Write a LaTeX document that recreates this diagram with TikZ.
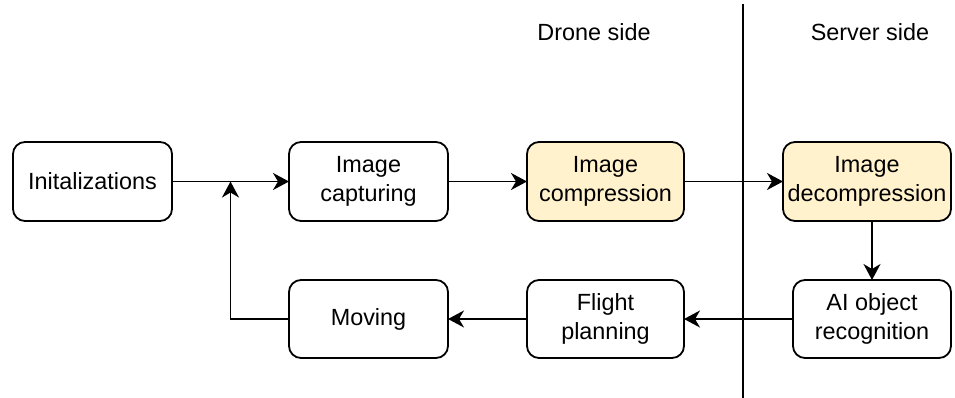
\documentclass[tikz,border=0pt]{standalone}
\usepackage{fontspec}
\setmainfont{Liberation Sans}
\usetikzlibrary{arrows.meta}
\definecolor{stepfill}{HTML}{FFF2CC}
\tikzset{
  proc/.style={draw=black, line width=1.8pt, rounded corners=12pt, fill=white,
    align=center, inner sep=0pt, outer sep=0pt, minimum height=79pt,
    font=\fontsize{23.4}{29.5}\selectfont},
  hl/.style={fill=stepfill},
  flow/.style={line width=1.8pt, -{Stealth[length=16pt,width=17pt,inset=5pt]}},
  lbl/.style={font=\fontsize{23.4}{29.5}\selectfont, inner sep=0pt},
}
\begin{document}
\begin{tikzpicture}[x=1pt,y=-1pt]
\useasboundingbox (0,0) rectangle (955,398);

% divider between drone and server
\coordinate (dtop) at (743,4);
\coordinate (dbot) at (743,398);
\draw[line width=1.8pt] (dtop) -- (dbot);

\node[lbl] (drone) at (594,32) {Drone side};
\node[lbl] (server) at (870,32) {Server side};

% top row
\node[proc, minimum width=159pt] (init) at (92.5,181.5) {Initalizations};
\node[proc, minimum width=159pt] (cap) at (368.5,181.5) {Image\\capturing};
\node[proc, hl, minimum width=157pt] (comp) at (605.5,181.5) {Image\\compression};
\node[proc, hl, minimum width=168pt] (decomp) at (867,181.5) {Image\\decompression};

% bottom row
\node[proc, minimum width=158pt, minimum height=78pt] (ai) at (872,319) {AI object\\recognition};
\node[proc, minimum width=157pt, minimum height=78pt] (plan) at (605.5,319) {Flight\\planning};
\node[proc, minimum width=159pt, minimum height=78pt] (mov) at (368.5,319) {Moving};

% junction where the loop re-enters
\coordinate (j) at (230.5,181.5);

\draw[flow] (init) -- (cap);
\draw[flow] (cap) -- (comp);
\draw[flow] (comp) -- (decomp);
\draw[flow] (decomp.south -| ai.north) -- (ai.north);
\draw[flow] (ai) -- (plan);
\draw[flow] (plan) -- (mov);
\draw[flow] (mov.west) -| (j);
\end{tikzpicture}
\end{document}
